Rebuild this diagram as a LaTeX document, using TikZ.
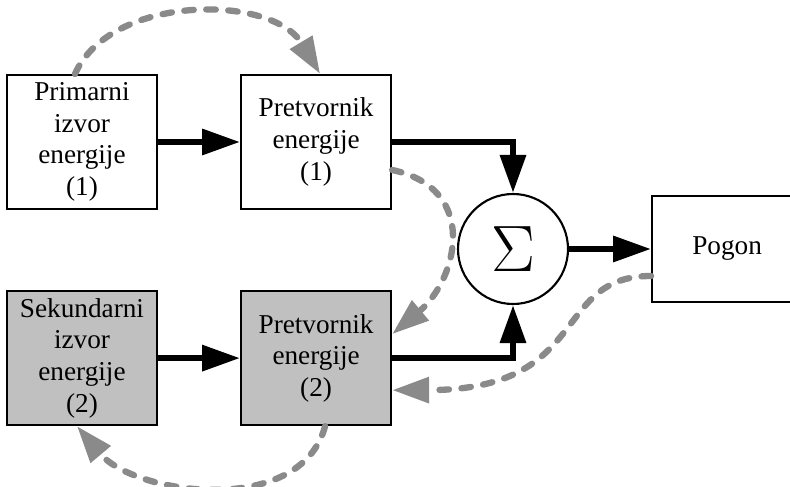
\documentclass[tikz,border=0pt]{standalone}
\usepackage{fontspec}
\setmainfont{Liberation Serif}
\usepackage{xcolor}
\usepackage{tikz}
\usetikzlibrary{arrows.meta, positioning}

\definecolor{sivi}{HTML}{C0C0C0}
\definecolor{crtkano}{HTML}{8A8A8A}

\begin{document}
\begin{tikzpicture}[
    blok/.style={draw, rectangle, line width=1.2pt, minimum width=3cm, minimum height=2.68cm, align=center, inner sep=2pt, font=\fontsize{15.5}{18}\selectfont},
    tok/.style={line width=3.6pt, -{Triangle[length=0.76cm, width=0.5cm]}},
    povrat/.style={crtkano, line width=3.6pt, line cap=round, dash pattern=on 0.19cm off 0.25cm, -{Triangle[length=0.74cm, width=0.5cm]}}
]
    \useasboundingbox (0,0) rectangle (15.8,-9.74);

    \node[blok] (prim) at (1.64,-2.84) {Primarni\\izvor\\energije\\(1)};
    \node[blok, right=1.64cm of prim] (pretv1) {Pretvornik\\energije\\(1)};
    \node[blok, fill=sivi, below=1.6cm of prim] (sek) {Sekundarni\\izvor\\energije\\(2)};
    \node[blok, fill=sivi, right=1.64cm of sek] (pretv2) {Pretvornik\\energije\\(2)};
    \node[draw, circle, line width=1.2pt, minimum size=2.2cm, inner sep=0pt] (suma) at (10.26,-4.98) {\scalebox{1.5}{\Huge$\Sigma$}};
    \node[blok, minimum height=2.12cm, right=1.64cm of suma] (pogon) {Pogon};

    \draw[tok] (prim) -- (pretv1);
    \draw[tok] (sek) -- (pretv2);
    \draw[tok] (pretv1.east) -| (suma.north);
    \draw[tok] (pretv2.east) -| (suma.south);
    \draw[tok] (suma) -- (pogon);

    \draw[povrat] ([xshift=-0.14cm]prim.north) .. controls +(66:1.75) and +(121:1.87) .. ([xshift=0.08cm]pretv1.north);
    \draw[povrat] ([yshift=-0.56cm]pretv1.east) .. controls +(-12:1.8) and +(40:1.7) .. ([yshift=0.48cm]pretv2.east);
    \draw[povrat] ([yshift=-0.54cm]pogon.west) .. controls +(180:2.0) and +(0:4.0) .. ([yshift=-0.64cm]pretv2.east);
    \draw[povrat] ([xshift=0.18cm]pretv2.south) .. controls +(-105:1.9) and +(-50:1.8) .. ([xshift=-0.1cm]sek.south);
\end{tikzpicture}
\end{document}
